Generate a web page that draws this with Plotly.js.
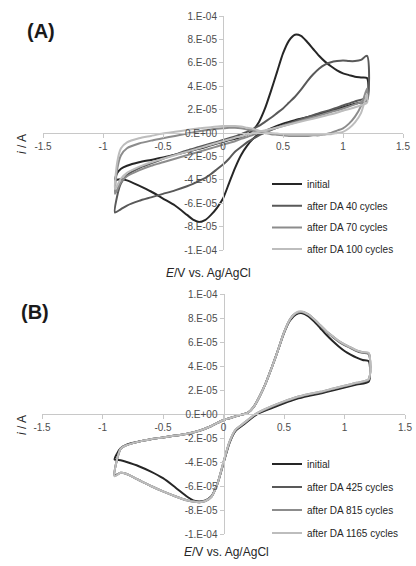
<!DOCTYPE html>
<html><head><meta charset="utf-8">
<script src="https://cdn.plot.ly/plotly-3.0.1.min.js"></script>
<style>html,body{margin:0;padding:0;background:#fff}#chart{width:416px;height:566px}</style>
</head><body><div id="chart"></div><script>
// Potential grids (V vs Ag/AgCl): forward sweep -0.9 -> 1.2, reverse sweep 1.2 -> -0.9
const E_fwd = [-0.9,-0.88,-0.85,-0.8,-0.7,-0.6,-0.5,-0.4,-0.3,-0.2,-0.1,0.0,0.05,0.1,0.15,0.2,0.25,0.3,0.35,0.4,0.45,0.5,0.55,0.6,0.65,0.7,0.75,0.8,0.85,0.9,0.95,1.0,1.05,1.1,1.15,1.2];
const E_rev = [1.2,1.1,1.0,0.9,0.8,0.7,0.6,0.5,0.4,0.3,0.25,0.2,0.15,0.1,0.05,0.0,-0.05,-0.1,-0.15,-0.2,-0.25,-0.3,-0.4,-0.5,-0.6,-0.7,-0.8,-0.85,-0.9];

// Currents in units of 1E-05 A
// Panel (A)
const A_initial_fwd = [-4.0,-3.4,-3.05,-2.8,-2.5,-2.3,-2.1,-1.85,-1.6,-1.35,-1.05,-0.75,-0.6,-0.5,-0.35,-0.15,0.25,0.95,2.1,3.6,5.2,6.8,7.9,8.4,8.3,7.8,7.2,6.6,6.1,5.7,5.35,5.1,4.95,4.8,4.75,4.7];
const A_initial_rev = [2.8,2.5,2.2,1.9,1.6,1.35,1.1,0.8,0.4,-0.1,-0.5,-1.1,-1.9,-3.0,-4.3,-5.6,-6.4,-7.0,-7.45,-7.6,-7.4,-7.0,-6.2,-5.6,-5.0,-4.5,-4.05,-3.95,-4.0];
const A_c40_fwd = [-6.8,-5.3,-4.3,-3.6,-3.0,-2.6,-2.2,-1.85,-1.5,-1.2,-0.9,-0.6,-0.45,-0.3,-0.1,0.1,0.35,0.6,0.95,1.3,1.7,2.1,2.6,3.1,3.7,4.4,5.0,5.5,5.85,6.05,6.15,6.2,6.15,6.15,6.25,6.6];
const A_c40_rev = [3.1,2.7,2.35,2.0,1.7,1.35,1.0,0.65,0.25,-0.2,-0.5,-0.8,-1.2,-1.6,-2.2,-2.7,-3.1,-3.5,-3.85,-4.1,-4.35,-4.55,-4.9,-5.2,-5.5,-5.8,-6.2,-6.5,-6.8];
const A_c70_fwd = [-5.2,-3.0,-1.9,-1.3,-0.9,-0.65,-0.45,-0.25,-0.05,0.15,0.3,0.4,0.45,0.45,0.4,0.3,0.2,0.1,0.0,-0.1,-0.15,-0.2,-0.25,-0.25,-0.25,-0.25,-0.2,-0.2,-0.1,0.0,0.2,0.4,0.8,1.4,2.3,3.8];
const A_c70_rev = [2.9,2.45,2.1,1.8,1.5,1.2,0.9,0.6,0.3,0.0,-0.15,-0.35,-0.5,-0.7,-0.85,-1.0,-1.15,-1.3,-1.45,-1.6,-1.75,-1.9,-2.2,-2.5,-2.8,-3.2,-3.7,-4.2,-5.2];
const A_c100_fwd = [-4.8,-2.4,-1.3,-0.8,-0.45,-0.25,-0.05,0.1,0.25,0.4,0.5,0.6,0.6,0.6,0.55,0.45,0.35,0.2,0.1,0.0,-0.05,-0.1,-0.15,-0.15,-0.15,-0.15,-0.15,-0.15,-0.12,-0.1,0.0,0.1,0.4,0.9,1.7,3.3];
const A_c100_rev = [2.6,2.2,1.9,1.6,1.35,1.1,0.85,0.6,0.35,0.1,0.0,-0.15,-0.3,-0.4,-0.55,-0.7,-0.85,-1.0,-1.15,-1.3,-1.45,-1.6,-1.9,-2.2,-2.5,-2.9,-3.4,-3.9,-4.8];

// Panel (B)
const B_initial_fwd = [-3.8,-3.3,-2.85,-2.55,-2.3,-2.1,-1.95,-1.8,-1.65,-1.4,-1.0,-0.5,-0.35,-0.2,-0.05,0.1,0.6,1.5,2.6,3.9,5.3,6.75,7.8,8.3,8.4,8.15,7.7,7.15,6.6,6.1,5.65,5.25,4.95,4.7,4.5,4.4];
const B_initial_rev = [2.7,2.45,2.2,1.95,1.7,1.5,1.25,0.9,0.5,0.1,-0.2,-0.6,-1.0,-1.4,-2.4,-4.1,-5.8,-6.85,-7.2,-7.3,-7.2,-6.9,-6.1,-5.35,-4.8,-4.35,-4.0,-3.85,-3.8];
const B_c425_fwd = [-5.1,-3.8,-2.9,-2.6,-2.3,-2.1,-1.95,-1.8,-1.65,-1.4,-1.0,-0.5,-0.35,-0.2,-0.05,0.1,0.6,1.5,2.6,3.9,5.3,6.8,7.9,8.4,8.5,8.3,7.85,7.35,6.85,6.45,6.05,5.75,5.5,5.25,5.1,5.0];
const B_c425_rev = [2.85,2.55,2.3,2.05,1.8,1.6,1.35,1.0,0.6,0.15,-0.15,-0.55,-0.95,-1.35,-2.35,-4.05,-5.8,-6.9,-7.25,-7.35,-7.3,-7.2,-6.85,-6.45,-6.0,-5.5,-5.0,-4.9,-5.1];
const B_c815_fwd = [-5.15,-3.8,-2.9,-2.6,-2.3,-2.1,-1.95,-1.8,-1.65,-1.4,-1.0,-0.5,-0.35,-0.2,-0.05,0.1,0.6,1.5,2.6,3.9,5.3,6.8,7.9,8.4,8.5,8.3,7.9,7.4,6.9,6.5,6.1,5.8,5.55,5.3,5.15,5.05];
const B_c815_rev = [2.9,2.6,2.35,2.1,1.85,1.65,1.4,1.05,0.65,0.2,-0.1,-0.5,-0.9,-1.3,-2.3,-4.0,-5.8,-6.9,-7.25,-7.35,-7.3,-7.2,-6.85,-6.45,-6.0,-5.5,-5.0,-4.9,-5.15];
const B_c1165_fwd = [-5.2,-3.8,-2.9,-2.6,-2.3,-2.1,-1.95,-1.8,-1.65,-1.4,-1.0,-0.5,-0.35,-0.2,-0.05,0.1,0.6,1.5,2.6,3.9,5.3,6.8,7.9,8.45,8.55,8.3,7.9,7.4,6.9,6.5,6.1,5.8,5.55,5.3,5.15,5.1];
const B_c1165_rev = [2.9,2.6,2.35,2.1,1.85,1.65,1.4,1.05,0.65,0.2,-0.1,-0.5,-0.9,-1.3,-2.3,-4.0,-5.8,-6.9,-7.25,-7.35,-7.3,-7.2,-6.85,-6.45,-6.0,-5.5,-5.0,-4.9,-5.2];

const namesA = ["initial","after DA 40 cycles","after DA 70 cycles","after DA 100 cycles"];
const namesB = ["initial","after DA 425 cycles","after DA 815 cycles","after DA 1165 cycles"];
const colors = ["#262626","#595959","#8c8c8c","#bdbdbd"];

const xTickVals = [-1.5,-1,-0.5,0,0.5,1,1.5];
const xTickText = ["-1.5","-1","-0.5","0","0.5","1","1.5"];
const yTickVals = [-10,-8,-6,-4,-2,0,2,4,6,8,10];
const yTickText = ["-1.E-04","-8.E-05","-6.E-05","-4.E-05","-2.E-05","0.E+00","2.E-05","4.E-05","6.E-05","8.E-05","1.E-04"];

const seriesA = [[A_initial_fwd,A_initial_rev],[A_c40_fwd,A_c40_rev],[A_c70_fwd,A_c70_rev],[A_c100_fwd,A_c100_rev]];
const seriesB = [[B_initial_fwd,B_initial_rev],[B_c425_fwd,B_c425_rev],[B_c815_fwd,B_c815_rev],[B_c1165_fwd,B_c1165_rev]];

const traces = [];
seriesA.forEach((s,k)=>{
  traces.push({type:'scatter',mode:'lines',x:E_fwd.concat(E_rev),y:s[0].concat(s[1]),
    xaxis:'x',yaxis:'y',name:namesA[k],legend:'legend',legendgroup:'a'+k,
    line:{color:colors[k],width:2,shape:'spline',smoothing:0.7}});
});
seriesB.forEach((s,k)=>{
  traces.push({type:'scatter',mode:'lines',x:E_fwd.concat(E_rev),y:s[0].concat(s[1]),
    xaxis:'x2',yaxis:'y2',name:namesB[k],legend:'legend2',legendgroup:'b'+k,
    line:{color:colors[k],width:2,shape:'spline',smoothing:0.7}});
});

const W=416,H=566;
const FONT="Liberation Sans, Arial, sans-serif";
const axLine="#c8c8c8", tickCol="#4d4d4d";
function xa(domain,posPx){return {domain:domain,range:[-1.5,1.5],anchor:'free',position:1-posPx/H,
  tickvals:xTickVals,ticktext:xTickText,showgrid:false,zeroline:false,showline:true,linecolor:axLine,linewidth:1,
  ticks:'outside',ticklen:4,tickcolor:axLine,tickfont:{family:FONT,size:10,color:tickCol},fixedrange:true};}
function ya(domain,posPx){return {domain:domain,range:[-10,10],anchor:'free',position:posPx/W,
  tickvals:yTickVals,ticktext:yTickText,showgrid:false,zeroline:false,showline:true,linecolor:axLine,linewidth:1,
  ticks:'outside',ticklen:4,tickcolor:axLine,tickfont:{family:FONT,size:10,color:tickCol},fixedrange:true};}

const legFont={family:FONT,size:10,color:'#262626'};
const layout={
  width:W,height:H,margin:{l:0,r:0,t:0,b:0},paper_bgcolor:'#fff',plot_bgcolor:'rgba(0,0,0,0)',
  showlegend:true,
  xaxis:xa([43/W,403/W],133),
  yaxis:ya([1-250/H,1-16/H],223),
  xaxis2:xa([42/W,405/W],414),
  yaxis2:ya([1-534/H,1-294/H],223.5),
  legend:{x:267/W,y:1-169.5/H,xanchor:'left',yanchor:'top',bgcolor:'rgba(0,0,0,0)',borderwidth:0,font:legFont,tracegroupgap:2.7,traceorder:'grouped'},
  legend2:{x:267/W,y:1-449.5/H,xanchor:'left',yanchor:'top',bgcolor:'rgba(0,0,0,0)',borderwidth:0,font:legFont,tracegroupgap:4,traceorder:'grouped'},
  annotations:[
    {text:'<b>(A)</b>',x:41/W,y:1-31.5/H,xref:'paper',yref:'paper',showarrow:false,xanchor:'center',yanchor:'middle',font:{family:FONT,size:20,color:'#1a1a1a'}},
    {text:'<b>(B)</b>',x:34.5/W,y:1-311.5/H,xref:'paper',yref:'paper',showarrow:false,xanchor:'center',yanchor:'middle',font:{family:FONT,size:20,color:'#1a1a1a'}},
    {text:'<i>E</i>/V vs. Ag/AgCl',x:208/W,y:1-273/H,xref:'paper',yref:'paper',showarrow:false,xanchor:'center',yanchor:'middle',font:{family:FONT,size:12,color:'#262626'}},
    {text:'<i>E</i>/V vs. Ag/AgCl',x:227/W,y:1-552/H,xref:'paper',yref:'paper',showarrow:false,xanchor:'center',yanchor:'middle',font:{family:FONT,size:12,color:'#262626'}},
    {text:'<i>i</i> / A',x:22/W,y:1-144/H,xref:'paper',yref:'paper',showarrow:false,xanchor:'center',yanchor:'middle',textangle:-90,font:{family:FONT,size:12,color:'#262626'}},
    {text:'<i>i</i> / A',x:22/W,y:1-425/H,xref:'paper',yref:'paper',showarrow:false,xanchor:'center',yanchor:'middle',textangle:-90,font:{family:FONT,size:12,color:'#262626'}}
  ]
};
Plotly.newPlot('chart',traces,layout,{displayModeBar:false,staticPlot:true});
</script></body></html>
